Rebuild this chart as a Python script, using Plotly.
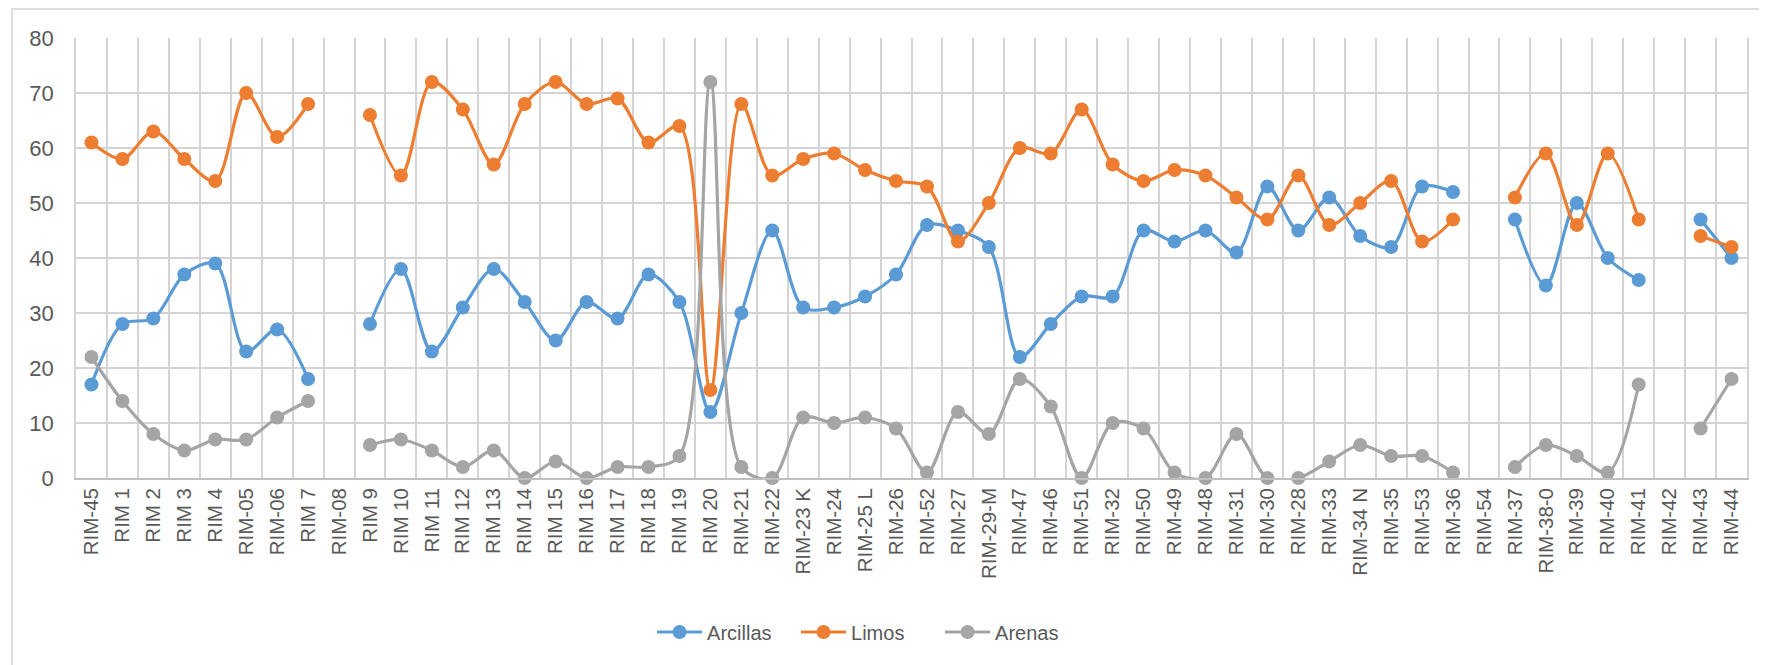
import plotly.graph_objects as go

# muestras (orden del grafico)
muestras = ["RIM-45", "RIM 1", "RIM 2", "RIM 3", "RIM 4", "RIM-05", "RIM-06", "RIM 7", "RIM-08",
            "RIM 9", "RIM 10", "RIM 11", "RIM 12", "RIM 13", "RIM 14", "RIM 15", "RIM 16", "RIM 17",
            "RIM 18", "RIM 19", "RIM 20", "RIM-21", "RIM-22", "RIM-23 K", "RIM-24", "RIM-25 L",
            "RIM-26", "RIM-52", "RIM-27", "RIM-29-M", "RIM-47", "RIM-46", "RIM-51", "RIM-32",
            "RIM-50", "RIM-49", "RIM-48", "RIM-31", "RIM-30", "RIM-28", "RIM-33", "RIM-34 N",
            "RIM-35", "RIM-53", "RIM-36", "RIM-54", "RIM-37", "RIM-38-0", "RIM-39", "RIM-40",
            "RIM-41", "RIM-42", "RIM-43", "RIM-44"]

arcillas = [17, 28, 29, 37, 39, 23, 27, 18, None,
            28, 38, 23, 31, 38, 32, 25, 32, 29,
            37, 32, 12, 30, 45, 31, 31, 33,
            37, 46, 45, 42, 22, 28, 33, 33,
            45, 43, 45, 41, 53, 45, 51, 44,
            42, 53, 52, None, 47, 35, 50, 40,
            36, None, 47, 40]

limos = [61, 58, 63, 58, 54, 70, 62, 68, None,
         66, 55, 72, 67, 57, 68, 72, 68, 69,
         61, 64, 16, 68, 55, 58, 59, 56,
         54, 53, 43, 50, 60, 59, 67, 57,
         54, 56, 55, 51, 47, 55, 46, 50,
         54, 43, 47, None, 51, 59, 46, 59,
         47, None, 44, 42]

arenas = [22, 14, 8, 5, 7, 7, 11, 14, None,
          6, 7, 5, 2, 5, 0, 3, 0, 2,
          2, 4, 72, 2, 0, 11, 10, 11,
          9, 1, 12, 8, 18, 13, 0, 10,
          9, 1, 0, 8, 0, 0, 3, 6,
          4, 4, 1, None, 2, 6, 4, 1,
          17, None, 9, 18]

series = [("Arcillas", arcillas, "#5B9BD5"),
          ("Limos", limos, "#ED7D31"),
          ("Arenas", arenas, "#A5A5A5")]

fig = go.Figure()
for nombre, vals, color in series:
    fig.add_trace(go.Scatter(
        x=muestras, y=vals, name=nombre, mode="lines+markers",
        line=dict(color=color, width=3.2, shape="spline", smoothing=0.9),
        marker=dict(color=color, size=14),
        cliponaxis=False,
    ))

font = "Liberation Sans"
grid = "#D4D4D4"

# la pagina tiene 8px de margen en el body, se compensa en los margenes
fig.update_layout(
    width=1767, height=665,
    margin=dict(l=68, r=28, t=30, b=195),
    paper_bgcolor="white", plot_bgcolor="white",
    font=dict(family=font, color="#595959", size=20),
    showlegend=True,
    legend=dict(orientation="h", x=0.474, xanchor="center", y=-0.35, yanchor="middle",
                font=dict(size=20, color="#595959"), itemwidth=45,
                entrywidth=84, entrywidthmode="pixels"),
    shapes=[dict(type="rect", xref="paper", yref="paper",
                 x0=-0.0383, x1=1.014, y0=-0.44, y1=1.066,
                 line=dict(color=grid, width=1.5), layer="below")],
)

fig.update_xaxes(
    type="category", categoryorder="array", categoryarray=muestras,
    range=[-0.5, len(muestras) - 0.5],
    tickson="boundaries", showgrid=True, gridcolor=grid, gridwidth=1.6,
    tickangle=-90, ticks="outside", ticklen=14, tickcolor="rgba(0,0,0,0)",
    showline=True, linecolor="#BFBFBF", linewidth=1.6,
    tickfont=dict(size=20.5, color="#595959"),
)
fig.update_yaxes(
    range=[0, 80], dtick=10, showgrid=True, gridcolor=grid, gridwidth=1.6,
    zeroline=False, showline=True, linecolor=grid, linewidth=1.6, mirror=True,
    ticks="outside", ticklen=16, tickcolor="rgba(0,0,0,0)",
    tickfont=dict(size=22, color="#595959"),
)

fig.write_html("out.html")
